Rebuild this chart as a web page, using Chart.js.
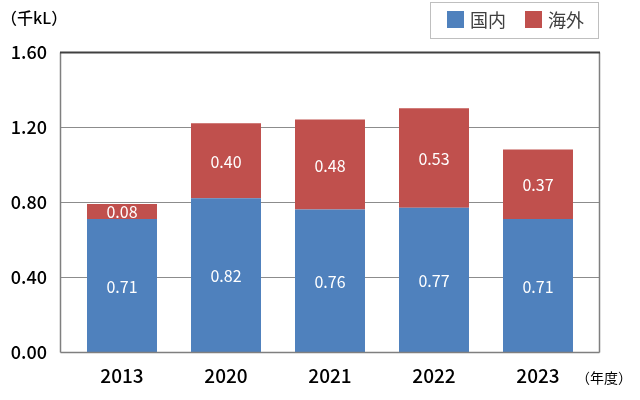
<!DOCTYPE html>
<html><head><meta charset="utf-8">
<script src="https://cdn.jsdelivr.net/npm/chart.js@4"></script>
<style>html,body{margin:0;padding:0;background:#fff}#wrap{width:640px;height:400px}</style>
</head><body><div id="wrap"><canvas id="c" width="640" height="400"></canvas></div>
<script>
const categories = ['2013','2020','2021','2022','2023'];
const domestic = [0.71, 0.82, 0.76, 0.77, 0.71];
const overseas = [0.08, 0.40, 0.48, 0.53, 0.37];
const seriesNames = ['国内','海外'];
const yTicks = [0, 0.4, 0.8, 1.2, 1.6];
const unitY = '（千kL）';
const unitX = '（年度）';

const FONT = "'Noto Sans CJK JP', 'Noto Sans', sans-serif";

const customPlugin = {
  id: 'custom',
  beforeDatasetsDraw(chart) {
    const ctx = chart.ctx, y = chart.scales.y, a = chart.chartArea;
    const L = a.left - 9, R = a.right + 9;
    ctx.save();
    ctx.strokeStyle = '#8c8c8c'; ctx.lineWidth = 1;
    yTicks.forEach(v => {
      if (v === 0 || v === 1.6) return;
      const py = Math.round(y.getPixelForValue(v)) + 0.5;
      ctx.beginPath(); ctx.moveTo(L, py); ctx.lineTo(R, py); ctx.stroke();
    });
    ctx.restore();
  },
  afterDatasetsDraw(chart) {
    const ctx = chart.ctx, y = chart.scales.y, a = chart.chartArea;
    const L = a.left - 9.5, R = a.right + 9.5;
    const T = Math.round(y.getPixelForValue(1.6)) + 0.5, B = Math.round(y.getPixelForValue(0)) + 0.5;
    ctx.save();
    ctx.strokeStyle = '#7f7f7f'; ctx.lineWidth = 1.5;
    ctx.beginPath(); ctx.moveTo(L, B); ctx.lineTo(R, B); ctx.stroke();
    ctx.beginPath(); ctx.moveTo(L, T); ctx.lineTo(L, B); ctx.stroke();
    ctx.beginPath(); ctx.moveTo(R, T); ctx.lineTo(R, B); ctx.stroke();
    ctx.strokeStyle = '#404040'; ctx.lineWidth = 2;
    ctx.beginPath(); ctx.moveTo(L - 0.5, T); ctx.lineTo(R + 0.5, T); ctx.stroke();
    // bar labels
    ctx.fillStyle = '#ffffff';
    ctx.font = '16px ' + FONT;
    ctx.textAlign = 'center'; ctx.textBaseline = 'middle';
    chart.data.datasets.forEach((ds, i) => {
      const meta = chart.getDatasetMeta(i);
      meta.data.forEach((bar, j) => {
        const cy = (bar.y + bar.base) / 2;
        ctx.fillText(ds.data[j].toFixed(2), bar.x, cy + 1);
      });
    });
    // unit labels
    ctx.fillStyle = '#000';
    ctx.font = '500 16px ' + FONT;
    ctx.textAlign = 'left';
    ctx.fillText(unitY, 1, 18);
    ctx.font = '14px ' + FONT;
    ctx.fillText(unitX, 576, 378);
    // legend
    ctx.strokeStyle = '#bfbfbf'; ctx.lineWidth = 1;
    ctx.strokeRect(430.5, 2.5, 168, 36);
    ctx.font = '18px ' + FONT;
    ctx.textBaseline = 'middle';
    const items = [[447, 470], [525, 548]];
    chart.data.datasets.forEach((ds, i) => {
      ctx.fillStyle = ds.backgroundColor;
      ctx.fillRect(items[i][0], 11, 17, 17);
      ctx.fillStyle = '#404040';
      ctx.fillText(ds.label, items[i][1], 20);
    });
    ctx.restore();
  }
};

new Chart(document.getElementById('c'), {
  type: 'bar',
  data: {
    labels: categories,
    datasets: [
      { label: seriesNames[0], data: domestic, backgroundColor: '#4f81bd', barPercentage: 0.673, categoryPercentage: 1 },
      { label: seriesNames[1], data: overseas, backgroundColor: '#c0504d', barPercentage: 0.673, categoryPercentage: 1 }
    ]
  },
  options: {
    responsive: false,
    animation: false,
    layout: { padding: { top: 52, right: 50, left: 0, bottom: 0 } },
    plugins: { legend: { display: false }, tooltip: { enabled: false } },
    scales: {
      x: {
        stacked: true,
        grid: { display: false, drawTicks: false },
        border: { display: false },
        ticks: { color: '#000', font: { family: FONT, size: 19, weight: '500' }, padding: 12 },
        afterFit(s) { s.height = 48; }
      },
      y: {
        stacked: true,
        min: 0, max: 1.6,
        afterBuildTicks(s) { s.ticks = yTicks.map(v => ({ value: v })); },
        grid: { display: false, drawTicks: false },
        border: { display: false },
        ticks: { color: '#000', font: { family: FONT, size: 18, weight: '500' }, padding: 23,
                 callback: v => Number(v).toFixed(2) },
        afterFit(s) { s.width = 70; }
      }
    }
  },
  plugins: [customPlugin]
});
</script>
</body></html>
